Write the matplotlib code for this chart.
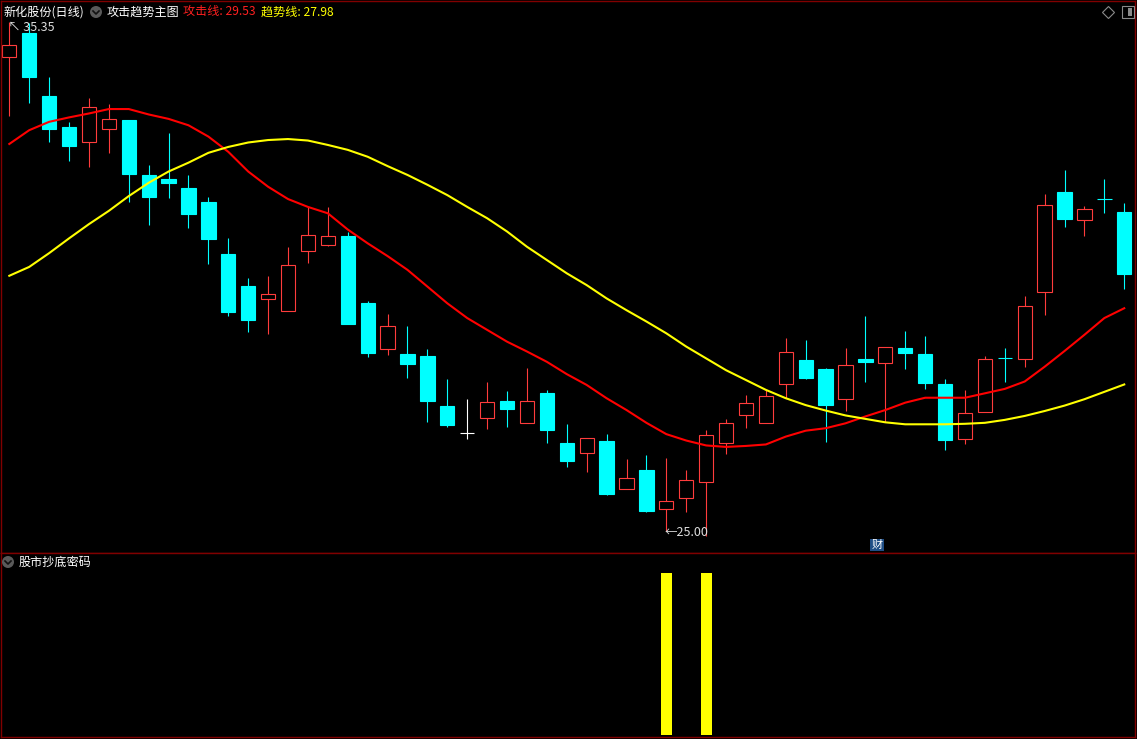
import numpy as np
import matplotlib
matplotlib.use("Agg")
import matplotlib.pyplot as plt
from matplotlib.patches import Rectangle, Ellipse
from matplotlib.lines import Line2D

plt.rcParams['font.family'] = ['Noto Sans CJK SC', 'DejaVu Sans']

# daily candles
opens = [34.64, 35.13, 33.85, 33.22, 32.90, 33.18, 33.36, 32.24, 32.16, 31.97,
         31.69, 30.63, 29.98, 29.72, 29.48, 30.70, 30.82, 31.00, 29.64, 28.71,
         28.60, 28.56, 27.54, 26.99, 27.29, 27.64, 27.19, 27.80, 26.78, 26.59,
         26.83, 25.86, 26.24, 25.45, 25.67, 26.00, 26.78, 27.35, 27.19, 27.98,
         28.48, 28.29, 27.68, 28.50, 28.41, 28.72, 28.60, 27.99, 26.87, 27.41,
         28.52, 28.49, 29.87, 31.89, 31.33, 31.76, 31.49]
highs = [35.35, 35.32, 34.23, 33.32, 33.80, 33.68, 33.36, 32.44, 33.09, 32.24,
         31.79, 30.96, 30.14, 30.19, 30.78, 31.59, 31.59, 31.08, 29.68, 29.41,
         29.17, 28.70, 28.09, 27.68, 28.03, 27.85, 28.31, 27.87, 27.18, 26.89,
         26.97, 26.46, 26.55, 26.48, 26.24, 27.05, 27.28, 27.77, 27.87, 28.92,
         28.88, 28.31, 28.72, 29.37, 28.74, 29.07, 28.97, 28.09, 27.87, 28.56,
         28.72, 29.78, 31.85, 32.34, 31.61, 32.16, 31.67]
lows = [33.44, 33.70, 32.92, 32.53, 32.41, 32.69, 31.70, 31.23, 31.78, 31.17,
        30.42, 29.38, 29.05, 29.01, 29.48, 30.44, 30.80, 29.20, 28.54, 28.57,
        28.12, 27.22, 27.12, 26.87, 27.07, 27.12, 27.19, 26.78, 26.31, 26.19,
        25.74, 25.86, 25.39, 25.00, 25.39, 24.90, 26.56, 27.10, 27.19, 27.70,
        28.09, 26.80, 27.45, 28.04, 27.22, 28.30, 27.89, 26.65, 26.77, 27.41,
        28.02, 28.33, 29.40, 31.19, 31.00, 31.47, 29.93]
closes = [34.88, 34.24, 33.18, 32.83, 33.62, 33.38, 32.26, 31.79, 32.08, 31.45,
          30.94, 29.46, 29.30, 29.82, 30.40, 31.01, 30.99, 29.20, 28.61, 29.17,
          28.40, 27.65, 27.16, 26.99, 27.62, 27.49, 27.64, 27.06, 26.43, 26.89,
          25.76, 26.07, 25.41, 25.62, 26.03, 26.95, 27.19, 27.60, 27.75, 28.63,
          28.12, 27.57, 28.37, 28.44, 28.74, 28.61, 28.00, 26.86, 27.39, 28.49,
          28.51, 29.57, 31.62, 31.35, 31.54, 31.75, 30.23]

# 攻击线 (red) and 趋势线 (yellow)
attack_line = [32.87, 33.15, 33.32, 33.41, 33.49, 33.58, 33.58, 33.47, 33.38, 33.25,
               33.02, 32.71, 32.31, 32.00, 31.75, 31.59, 31.46, 31.13, 30.85, 30.59,
               30.31, 29.97, 29.63, 29.33, 29.09, 28.85, 28.65, 28.44, 28.19, 27.97,
               27.70, 27.46, 27.20, 26.97, 26.84, 26.74, 26.71, 26.73, 26.76, 26.92,
               27.04, 27.09, 27.19, 27.33, 27.46, 27.61, 27.71, 27.71, 27.71, 27.80,
               27.89, 28.04, 28.34, 28.66, 28.99, 29.33, 29.53]
trend_line = [30.19, 30.37, 30.65, 30.95, 31.24, 31.51, 31.81, 32.08, 32.31, 32.49,
              32.69, 32.81, 32.90, 32.95, 32.97, 32.94, 32.85, 32.75, 32.61, 32.42,
              32.24, 32.04, 31.83, 31.59, 31.36, 31.09, 30.78, 30.51, 30.24, 30.00,
              29.73, 29.49, 29.26, 29.02, 28.75, 28.51, 28.27, 28.07, 27.87, 27.70,
              27.56, 27.45, 27.35, 27.28, 27.21, 27.17, 27.17, 27.17, 27.18, 27.20,
              27.26, 27.34, 27.44, 27.55, 27.68, 27.83, 27.98]

# 股市抄底密码 signal
signal = [0] * 33 + [1, 0, 1] + [0] * 21

high_idx = 0
low_idx = 33

W, H = 1137, 739
fig = plt.figure(figsize=(W / 100, H / 100), dpi=100, facecolor='black')


def fx(px):
    return px / W


def fy(py):
    return 1 - py / H


frame = '#800000'
ax = fig.add_axes([fx(1), fy(553), (1135 - 1) / W, (553 - 1) / H])
ax2 = fig.add_axes([fx(1), fy(737), (1135 - 1) / W, (737 - 553) / H])
for a in (ax, ax2):
    a.set_facecolor('black')
    a.set_xticks([])
    a.set_yticks([])
    for s in a.spines.values():
        s.set_color(frame)
        s.set_linewidth(1)

x = np.arange(len(opens))
up_col = '#FF3C3C'
dn_col = '#00FFFF'
bw = 0.72

for i in x:
    o, h, l, c = opens[i], highs[i], lows[i], closes[i]
    if c > o:
        ax.vlines(i, c, h, color=up_col, lw=0.8)
        ax.vlines(i, l, o, color=up_col, lw=0.8)
        ax.add_patch(Rectangle((i - bw / 2, o), bw, c - o, facecolor='black',
                               edgecolor=up_col, lw=0.8))
    elif c < o:
        ax.vlines(i, l, h, color=dn_col, lw=0.8)
        ax.add_patch(Rectangle((i - bw / 2, c), bw, o - c, facecolor=dn_col,
                               edgecolor=dn_col, lw=0.8))
    else:
        ax.vlines(i, l, h, color='white', lw=0.8)
        ax.hlines(o, i - bw / 2, i + bw / 2, color='white', lw=0.8)

ax.plot(x, attack_line, color='#FF0000', lw=1.5)
ax.plot(x, trend_line, color='#FFFF00', lw=1.5)

ax.set_xlim(-0.417, 56.54)
ax.set_ylim(24.553, 35.777)

ax.annotate(f'↖ {highs[high_idx]:.2f}', xy=(high_idx, highs[high_idx]), xytext=(-1, 1),
            textcoords='offset points', va='top', ha='left', color='#DDDDDD', fontsize=9)
ax.annotate(f'←{lows[low_idx]:.2f}', xy=(low_idx, lows[low_idx]), xytext=(-1, -1),
            textcoords='offset points', va='center', ha='left', color='#DDDDDD', fontsize=9)

ax2.bar(x, signal, width=0.55, color='#FFFF00')
ax2.set_xlim(-0.417, 56.54)
ax2.set_ylim(-0.0123, 1.1235)

# header texts
fs = 8.7
fig.text(fx(4), fy(12), '新化股份(日线)', color='white', fontsize=fs, va='center', ha='left')
fig.text(fx(107), fy(12), '攻击趋势主图', color='white', fontsize=fs, va='center', ha='left')
fig.text(fx(183), fy(12), f'攻击线: {attack_line[-1]:.2f}', color='#FF2020', fontsize=fs,
         va='center', ha='left')
fig.text(fx(261), fy(12), f'趋势线: {trend_line[-1]:.2f}', color='#FFFF00', fontsize=fs,
         va='center', ha='left')
fig.text(fx(19), fy(562), '股市抄底密码', color='white', fontsize=fs, va='center', ha='left')

# collapse icons
for cx, cy in [(96, 12), (8, 562)]:
    fig.add_artist(Ellipse((fx(cx), fy(cy)), 12 / W, 12 / H, transform=fig.transFigure,
                           facecolor='#5A5A5A', edgecolor='none'))
    fig.add_artist(Line2D([fx(cx - 3), fx(cx), fx(cx + 3)], [fy(cy - 1), fy(cy + 2), fy(cy - 1)],
                          color='#111111', lw=1.2))

# top right icons
fig.add_artist(Line2D([fx(1108)], [fy(12)], marker='D', ms=6, mfc='none', mec='#8A8A8A',
                      mew=0.8, transform=fig.transFigure))
fig.add_artist(Rectangle((fx(1122), fy(18)), 12 / W, 12 / H, transform=fig.transFigure,
                         facecolor='none', edgecolor='#8A8A8A', lw=0.8))
fig.add_artist(Rectangle((fx(1128), fy(16)), 4 / W, 8 / H, transform=fig.transFigure,
                         facecolor='#8A8A8A', edgecolor='none'))

# 财 marker
fig.text(fx(877), fy(545), '财', color='white', fontsize=8, ha='center', va='center',
         bbox=dict(boxstyle='square,pad=0.12', fc='#1F4E86', ec='none'))

fig.savefig('out.png', dpi=100, facecolor='black')
